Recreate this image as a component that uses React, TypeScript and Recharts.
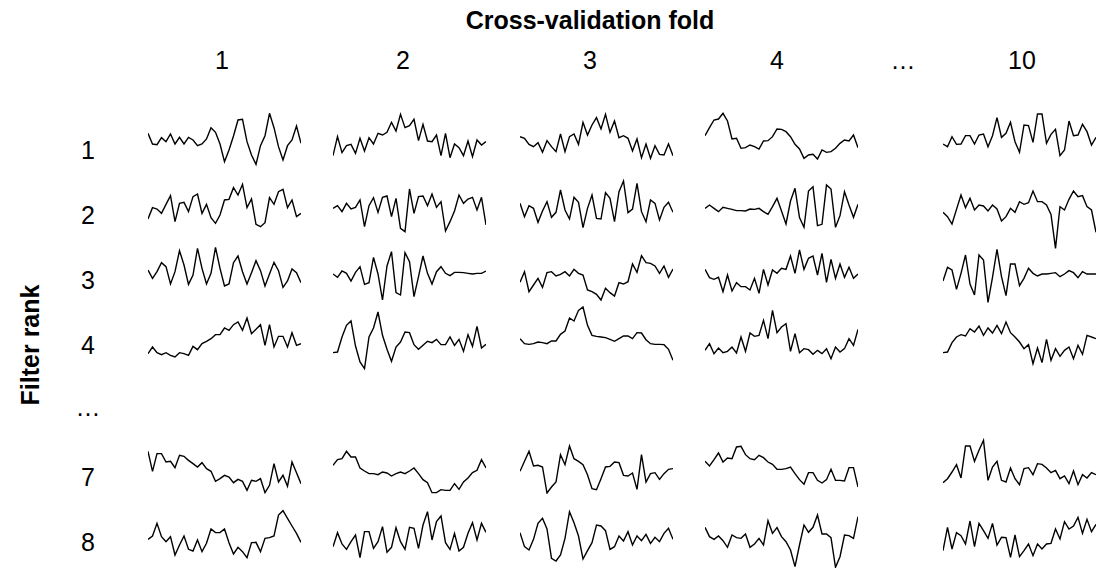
import { LineChart, Line, XAxis, YAxis } from 'recharts'

const FOLD_LABELS = ['1', '2', '3', '4', '…', '10']
const RANK_LABELS = ['1', '2', '3', '4', '…', '7', '8']

// filter rank 1
const rank1Fold1 = [110, 78, 76, 97, 85, 108, 78, 98, 78, 98, 90, 73, 78, 93, 127, 113, 78, 25, 60, 102, 150, 152, 85, 45, 17, 73, 103, 170, 127, 70, 30, 73, 90, 132, 80]
const rank1Fold2 = [43, 100, 52, 73, 77, 50, 95, 57, 97, 78, 110, 105, 113, 143, 117, 167, 127, 133, 152, 88, 137, 87, 85, 105, 43, 110, 37, 78, 67, 43, 87, 40, 90, 75, 85]
const rank1Fold3 = [100, 95, 77, 70, 82, 53, 88, 70, 55, 108, 55, 100, 108, 77, 143, 105, 135, 157, 123, 167, 113, 147, 97, 103, 95, 57, 93, 37, 78, 35, 73, 47, 45, 78, 43]
const rank1Fold4 = [103, 127, 150, 153, 170, 147, 93, 95, 65, 67, 75, 70, 63, 87, 88, 100, 123, 122, 115, 100, 77, 63, 35, 45, 47, 33, 60, 53, 55, 65, 80, 90, 87, 105, 67]
const rank1Fold10 = [78, 70, 100, 77, 78, 103, 103, 78, 105, 108, 70, 103, 157, 98, 110, 143, 85, 53, 135, 133, 83, 168, 168, 80, 107, 122, 43, 60, 147, 103, 105, 137, 115, 75, 98]

// filter rank 2
const rank2Fold1 = [93, 127, 123, 110, 137, 163, 85, 140, 143, 115, 160, 168, 110, 137, 97, 80, 105, 150, 152, 187, 165, 197, 127, 153, 77, 70, 82, 157, 137, 175, 182, 127, 150, 100, 110]
const rank2Fold2 = [125, 133, 115, 140, 123, 128, 150, 70, 133, 157, 113, 158, 162, 100, 155, 65, 55, 183, 110, 160, 162, 133, 168, 128, 145, 57, 85, 117, 165, 140, 153, 158, 120, 158, 75]
const rank2Fold3 = [140, 100, 133, 125, 83, 117, 145, 98, 113, 180, 120, 93, 158, 143, 67, 125, 165, 95, 93, 172, 155, 85, 175, 207, 112, 123, 200, 115, 85, 150, 140, 90, 128, 143, 113]
const rank2Fold4 = [125, 135, 125, 115, 128, 125, 122, 118, 118, 117, 123, 122, 125, 115, 107, 130, 155, 117, 78, 147, 185, 97, 68, 177, 190, 73, 77, 195, 183, 68, 103, 175, 135, 98, 137]
const rank2Fold10 = [113, 100, 78, 122, 165, 127, 155, 120, 135, 132, 117, 135, 123, 87, 100, 125, 113, 145, 137, 142, 177, 145, 145, 135, 107, 5, 130, 120, 152, 177, 160, 163, 130, 120, 53]

// filter rank 3
const rank3Fold1 = [105, 80, 100, 127, 115, 63, 100, 163, 120, 62, 90, 170, 110, 63, 95, 173, 110, 57, 63, 127, 147, 100, 63, 97, 133, 103, 57, 93, 128, 103, 53, 72, 108, 97, 67]
const rank3Fold2 = [93, 83, 102, 95, 72, 98, 115, 62, 67, 143, 93, 15, 117, 160, 37, 30, 157, 130, 25, 85, 147, 95, 63, 100, 115, 95, 88, 98, 98, 97, 95, 93, 95, 95, 102]
const rank3Fold3 = [68, 100, 40, 60, 80, 53, 97, 100, 87, 92, 100, 87, 107, 95, 90, 45, 40, 32, 15, 50, 37, 27, 67, 63, 70, 123, 98, 148, 127, 125, 117, 95, 117, 83, 108]
const rank3Fold4 = [107, 82, 77, 83, 40, 90, 42, 67, 55, 55, 45, 80, 35, 107, 60, 105, 95, 110, 107, 147, 95, 165, 107, 140, 147, 90, 155, 68, 137, 80, 123, 83, 113, 80, 93]
const rank3Fold10 = [72, 113, 105, 47, 95, 150, 63, 30, 150, 135, 8, 83, 167, 85, 28, 123, 123, 58, 80, 110, 95, 87, 93, 93, 95, 97, 85, 93, 103, 97, 82, 100, 93, 93, 93]

// filter rank 4
const rank4Fold1 = [61, 81, 64, 58, 64, 56, 51, 64, 61, 56, 83, 73, 91, 98, 106, 118, 118, 138, 131, 148, 156, 131, 168, 121, 134, 148, 86, 148, 81, 113, 113, 81, 124, 86, 91]
const rank4Fold2 = [64, 66, 111, 146, 159, 84, 36, 16, 111, 138, 186, 116, 74, 38, 81, 96, 126, 124, 88, 74, 86, 98, 94, 104, 88, 88, 111, 86, 104, 68, 118, 83, 143, 78, 89]
const rank4Fold3 = [106, 91, 89, 91, 96, 94, 91, 99, 99, 119, 129, 168, 159, 191, 201, 146, 116, 113, 111, 109, 104, 98, 106, 114, 114, 106, 124, 123, 103, 91, 89, 89, 88, 74, 41]
const rank4Fold4 = [71, 91, 61, 78, 64, 68, 81, 63, 111, 68, 123, 113, 116, 161, 106, 191, 124, 141, 151, 68, 121, 64, 76, 73, 59, 71, 61, 76, 46, 81, 66, 76, 106, 86, 134]
const rank4Fold10 = [64, 66, 94, 111, 118, 114, 136, 126, 144, 116, 138, 123, 146, 121, 156, 124, 111, 96, 76, 88, 31, 78, 34, 104, 41, 76, 53, 71, 81, 46, 86, 59, 116, 111, 106]

// filter rank 7
const rank7Fold1 = [128, 68, 121, 121, 96, 98, 79, 116, 113, 101, 91, 81, 94, 76, 68, 38, 46, 56, 51, 34, 44, 38, 11, 41, 38, 46, 4, 26, 91, 36, 56, 23, 96, 64, 31]
const rank7Fold2 = [86, 103, 106, 128, 111, 111, 78, 69, 61, 61, 58, 66, 63, 54, 61, 66, 61, 69, 78, 61, 43, 34, 4, 4, 13, 11, 11, 31, 14, 36, 48, 64, 71, 103, 78]
const rank7Fold3 = [68, 98, 128, 84, 86, 81, 3, 21, 36, 118, 88, 144, 106, 98, 88, 58, 16, 13, 46, 81, 83, 96, 94, 56, 54, 63, 14, 118, 36, 61, 64, 44, 61, 74, 76]
const rank7Fold4 = [98, 84, 103, 123, 96, 108, 106, 141, 143, 118, 106, 103, 116, 109, 96, 89, 74, 74, 76, 81, 61, 43, 29, 64, 64, 41, 33, 43, 74, 41, 41, 39, 79, 79, 21]
const rank7Fold10 = [34, 46, 66, 88, 48, 144, 144, 98, 131, 161, 41, 81, 98, 41, 36, 78, 46, 28, 76, 79, 58, 91, 89, 78, 64, 71, 46, 54, 31, 69, 28, 58, 48, 64, 58]

// filter rank 8
const rank8Fold1 = [86, 96, 134, 94, 79, 94, 39, 69, 96, 56, 51, 84, 49, 74, 117, 106, 106, 117, 76, 42, 62, 49, 31, 76, 77, 49, 89, 91, 96, 159, 172, 149, 126, 104, 77]
const rank8Fold2 = [64, 106, 72, 56, 79, 99, 31, 109, 109, 59, 79, 124, 47, 62, 121, 79, 56, 122, 119, 59, 129, 169, 84, 139, 156, 76, 56, 104, 51, 62, 104, 136, 84, 134, 107]
const rank8Fold3 = [106, 64, 54, 86, 134, 149, 117, 29, 21, 39, 89, 169, 136, 96, 27, 52, 76, 129, 126, 112, 56, 64, 96, 81, 109, 69, 96, 82, 101, 74, 92, 79, 104, 119, 86]
const rank8Fold4 = [122, 94, 86, 96, 82, 62, 99, 91, 89, 102, 62, 72, 89, 69, 142, 104, 121, 94, 79, 54, 4, 69, 129, 107, 122, 159, 102, 102, 91, 2, 34, 99, 97, 89, 154]
const rank8Fold10 = [52, 122, 57, 106, 97, 72, 141, 64, 134, 112, 89, 134, 69, 92, 91, 32, 99, 34, 52, 72, 37, 72, 57, 72, 74, 117, 87, 139, 117, 126, 152, 104, 146, 109, 131]

const ROWS = [
  [rank1Fold1, rank1Fold2, rank1Fold3, rank1Fold4, rank1Fold10],
  [rank2Fold1, rank2Fold2, rank2Fold3, rank2Fold4, rank2Fold10],
  [rank3Fold1, rank3Fold2, rank3Fold3, rank3Fold4, rank3Fold10],
  [rank4Fold1, rank4Fold2, rank4Fold3, rank4Fold4, rank4Fold10],
  [rank7Fold1, rank7Fold2, rank7Fold3, rank7Fold4, rank7Fold10],
  [rank8Fold1, rank8Fold2, rank8Fold3, rank8Fold4, rank8Fold10],
]

// layout
const COL_LEFT = [148, 333, 520, 705, 943]
const SPARK_W = 153
const ROW_BOX = [
  { top: 105, h: 65 },
  { top: 175, h: 75 },
  { top: 240, h: 65 },
  { top: 302, h: 72 },
  { top: 432, h: 62 },
  { top: 490, h: 78 },
]
const FOLD_X = [222, 403, 590, 777, 903, 1022]
const RANK_Y = [150, 215, 280, 345, 407, 477, 542]

const FONT = '"Liberation Sans", Arial, Helvetica, sans-serif'
const FONT_SIZE = 25

function Spark({ values, left, top, h }: { values: number[]; left: number; top: number; h: number }) {
  const data = values.map((v, i) => ({ i, v }))
  return (
    <div style={{ position: 'absolute', left, top }}>
      <LineChart
        width={SPARK_W}
        height={h}
        data={data}
        margin={{ top: 0, right: 0, bottom: 0, left: 0 }}
        style={{ overflow: 'visible' }}
      >
        <XAxis dataKey="i" hide />
        <YAxis hide type="number" domain={[0, h * 3]} />
        <Line
          type="linear"
          dataKey="v"
          stroke="#000"
          strokeWidth={1.4}
          dot={false}
          isAnimationActive={false}
        />
      </LineChart>
    </div>
  )
}

const label = (text: string, x: number, y: number) => (
  <div
    key={`${text}-${x}-${y}`}
    style={{
      position: 'absolute',
      left: x - 60,
      top: y - 15,
      width: 120,
      height: 30,
      lineHeight: '30px',
      textAlign: 'center',
      fontSize: FONT_SIZE,
      color: '#000',
    }}
  >
    {text}
  </div>
)

export default function App() {
  return (
    <div
      style={{
        position: 'absolute',
        left: 0,
        top: 0,
        width: 1108,
        height: 569,
        background: '#fff',
        fontFamily: FONT,
        overflow: 'hidden',
      }}
    >
      <div
        style={{
          position: 'absolute',
          left: 390,
          top: 5,
          width: 400,
          height: 30,
          lineHeight: '30px',
          textAlign: 'center',
          fontSize: FONT_SIZE,
          fontWeight: 700,
        }}
      >
        Cross-validation fold
      </div>
      <div
        style={{
          position: 'absolute',
          left: 30 - 100,
          top: 345 - 15,
          width: 200,
          height: 30,
          lineHeight: '30px',
          textAlign: 'center',
          fontSize: FONT_SIZE,
          fontWeight: 700,
          transform: 'rotate(-90deg)',
        }}
      >
        Filter rank
      </div>
      {FOLD_LABELS.map((t, i) => label(t, FOLD_X[i], 60))}
      {RANK_LABELS.map((t, i) => label(t, 88, RANK_Y[i]))}
      {ROWS.map((row, r) =>
        row.map((values, c) => (
          <Spark
            key={`${r}-${c}`}
            values={values}
            left={COL_LEFT[c]}
            top={ROW_BOX[r].top}
            h={ROW_BOX[r].h}
          />
        ))
      )}
    </div>
  )
}
